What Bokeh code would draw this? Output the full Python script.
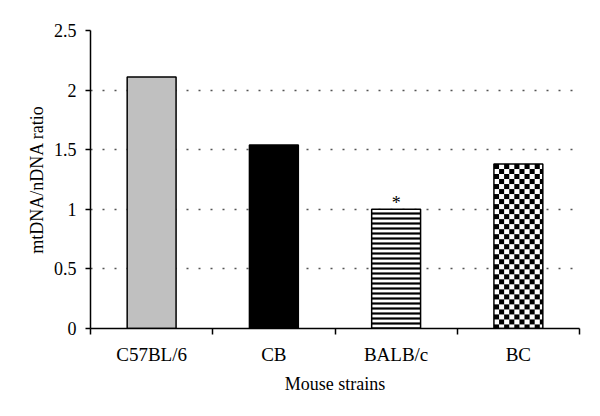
import numpy as np
from bokeh.plotting import figure
from bokeh.models import FixedTicker, ColumnDataSource
from bokeh.embed import file_html
from bokeh.resources import INLINE
from bokeh.core.properties import value

# data
strains = ["C57BL/6", "CB", "BALB/c", "BC"]
ratios = [2.11, 1.54, 1.0, 1.38]
significance = ["", "", "*", ""]
y_ticks = [0, 0.5, 1, 1.5, 2, 2.5]
y_tick_labels = ["0", "0.5", "1", "1.5", "2", "2.5"]

FONT = "Liberation Serif"
W, H = 600, 416
BL, BR, BT, BB = 90, 21, 30, 88
YMAX = 2.5
BAR_W = 0.4

xpos = [i + 0.5 for i in range(len(strains))]

p = figure(width=W, height=H, x_range=(0, len(strains)), y_range=(0, YMAX),
           output_backend="svg", toolbar_location=None,
           min_border_left=BL, min_border_right=BR, min_border_top=BT, min_border_bottom=BB)
p.outline_line_color = None
p.background_fill_color = "white"

# grid
p.xgrid.visible = False
p.ygrid.ticker = FixedTicker(ticks=y_ticks[1:])
p.ygrid.grid_line_color = "#555555"
p.ygrid.grid_line_width = 1.5
p.ygrid.grid_line_dash = "2 10"

common = dict(width=BAR_W, bottom=0, line_color="black", line_width=1.5)
p.vbar(x=[xpos[0]], top=[ratios[0]], fill_color="#c0c0c0", **common)
p.vbar(x=[xpos[1]], top=[ratios[1]], fill_color="black", **common)
p.vbar(x=[xpos[2]], top=[ratios[2]], fill_color="white",
       hatch_pattern=value("horizontal_line"), hatch_color="black", hatch_scale=5,
       hatch_weight=2.2, **common)

# checkerboard fill for the last bar (texture built at screen resolution)
px_per_x = (W - BL - BR) / len(strains)
px_per_y = (H - BT - BB) / YMAX
nx = int(round(BAR_W * px_per_x))
ny = int(round(ratios[3] * px_per_y))
cell = 5
jj, ii = np.meshgrid(np.arange(nx), np.arange(ny))
ii = ny - 1 - ii
mask = ((ii // cell) + (jj // cell)) % 2 == 0
rgba = np.where(mask, np.uint32(0xFF000000), np.uint32(0xFFFFFFFF)).astype(np.uint32)
p.image_rgba(image=[rgba], x=xpos[3] - BAR_W / 2, y=0, dw=BAR_W, dh=ratios[3])
p.vbar(x=[xpos[3]], top=[ratios[3]], fill_color=None, **common)

# significance marker
src = ColumnDataSource(dict(x=xpos, y=[r + 0.055 for r in ratios], t=significance))
p.text(x="x", y="y", text="t", source=src, text_align="center", text_baseline="middle",
       text_font=value(FONT), text_font_size="18px", text_color="black")

# axes
p.yaxis.ticker = FixedTicker(ticks=y_ticks)
p.yaxis.major_label_overrides = {t: l for t, l in zip(y_ticks, y_tick_labels)}
p.yaxis.minor_tick_line_color = None
p.yaxis.major_tick_in = 0
p.yaxis.major_tick_out = 5
p.yaxis.major_label_standoff = 9
p.yaxis.axis_label = "mtDNA/nDNA ratio"
p.yaxis.axis_label_standoff = 4

p.xaxis.ticker = FixedTicker(ticks=xpos, minor_ticks=list(range(len(strains) + 1)))
p.xaxis.major_label_overrides = {x: s for x, s in zip(xpos, strains)}
p.xaxis.major_tick_in = 0
p.xaxis.major_tick_out = 0
p.xaxis.minor_tick_in = 0
p.xaxis.minor_tick_out = 6
p.xaxis.minor_tick_line_color = "black"
p.xaxis.minor_tick_line_width = 1.5
p.xaxis.major_label_standoff = 9
p.xaxis.axis_label = "Mouse strains"
p.xaxis.axis_label_standoff = 6

for ax in (p.xaxis[0], p.yaxis[0]):
    ax.axis_line_color = "black"
    ax.axis_line_width = 1.5
    ax.major_tick_line_color = "black"
    ax.major_tick_line_width = 1.5
    ax.major_label_text_font = FONT
    ax.major_label_text_font_size = "18px"
    ax.major_label_text_color = "black"
    ax.axis_label_text_font = FONT
    ax.axis_label_text_font_size = "18px"
    ax.axis_label_text_font_style = "normal"
    ax.axis_label_text_color = "black"
p.xaxis.major_label_text_font_size = "19px"

open("out.html", "w").write(file_html(p, INLINE))
